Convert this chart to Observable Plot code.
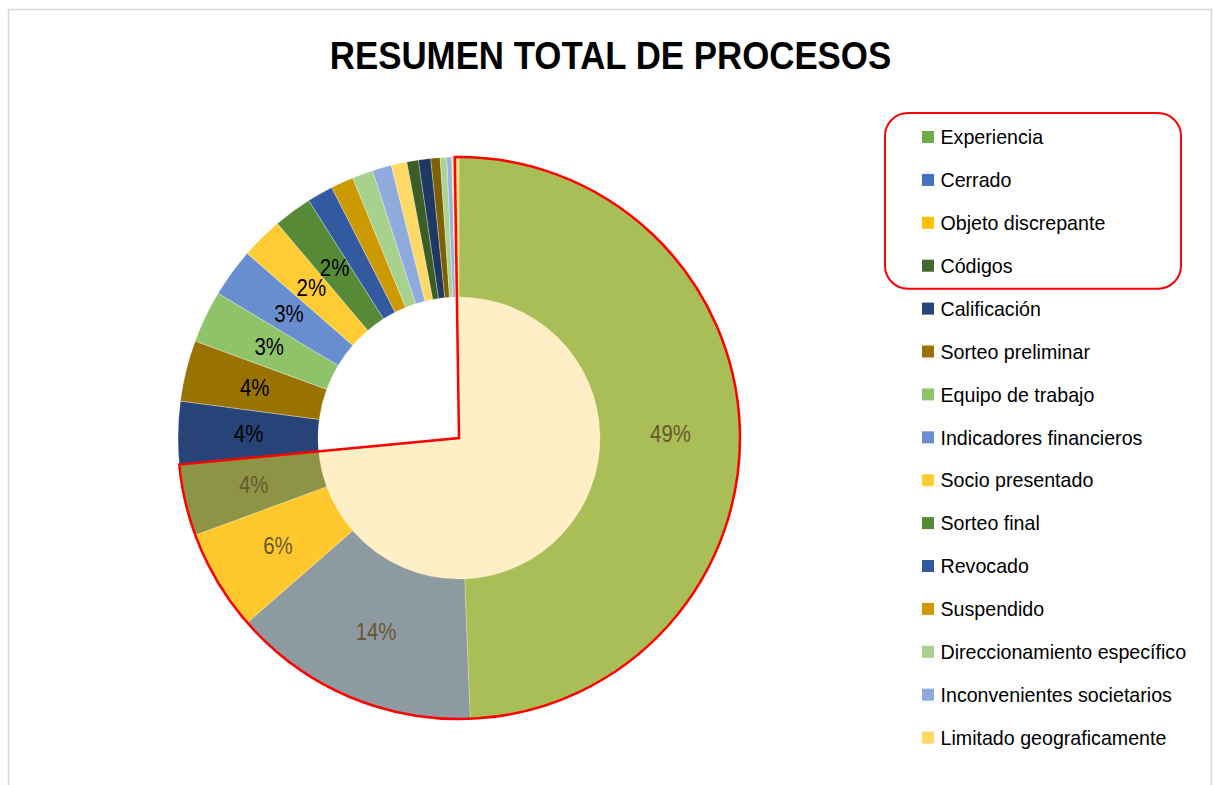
<!DOCTYPE html>
<html>
<head>
<meta charset="utf-8">
<script src="https://cdn.jsdelivr.net/npm/d3@7"></script>
<script src="https://cdn.jsdelivr.net/npm/@observablehq/plot@0.6"></script>
<style>
  html, body { margin: 0; padding: 0; background: #ffffff; }
  #chart svg { display: block; }
</style>
</head>
<body>
<div id="chart"></div>
<script>
// ---------------- data ----------------
const title = "RESUMEN TOTAL DE PROCESOS";

const categories = [
  "Experiencia", "Cerrado", "Objeto discrepante", "Códigos", "Calificación",
  "Sorteo preliminar", "Equipo de trabajo", "Indicadores financieros",
  "Socio presentado", "Sorteo final", "Revocado", "Suspendido",
  "Direccionamiento específico", "Inconvenientes societarios",
  "Limitado geograficamente",
  // series beyond the (truncated) legend
  "Otro 16", "Otro 17", "Otro 18", "Otro 19", "Otro 20", "Otro 21"
];

// share of total (%)
const values = [
  49.3, 14.2, 5.8, 4.1, 3.6,
  3.5, 3.0, 2.8,
  2.4, 2.2, 1.5, 1.3,
  1.2, 1.1,
  0.9,
  0.66, 0.71, 0.53, 0.38, 0.28, 0.41
];

const colors = [
  "#70AD47", "#4472C4", "#FFC000", "#43682B", "#264478",
  "#9A7200", "#8FC36A", "#698ED0", "#FFCD33", "#568A37",
  "#3359A1", "#CC9A00", "#A9D18E", "#8FAADC", "#FFD966",
  "#3A5E26", "#203864", "#7F6000", "#ADD394", "#98B3E2", "#FFE699"
];

const legendCount = 15;       // series listed in the legend
const labelCount = 10;        // slices that carry a data label
const highlightCount = 4;     // series inside the red highlight

// ---------------- layout ----------------
const W = 1214, H = 785;
const cx = 459, cy = 438, rOuter = 281, rInner = 141;
const legendX = 922, legendY0 = 137, legendStep = 42.9, sw = 12;
const font = "'Liberation Sans', Arial, sans-serif";

const data = categories.map((name, i) => ({name, value: values[i], color: colors[i], i}));
const total = d3.sum(values);
const arcs = d3.pie().sort(null).value(d => d.value)(data);
const midR = (rInner + rOuter) / 2;

const labelData = arcs.slice(0, labelCount).map(a => {
  const ang = (a.startAngle + a.endAngle) / 2;
  return {
    x: cx + midR * Math.sin(ang),
    y: cy - midR * Math.cos(ang),
    text: Math.round(a.data.value / total * 100) + "%"
  };
});

const legendData = data.slice(0, legendCount).map((d, i) => ({
  ...d, y: legendY0 + i * legendStep
}));

const highlightStart = arcs[0].startAngle - 0.015;
const highlightEnd = arcs[highlightCount - 1].endAngle;

function donutMark() {
  const g = d3.create("svg:g").attr("transform", `translate(${cx},${cy})`);
  const arc = d3.arc().innerRadius(rInner).outerRadius(rOuter);
  g.selectAll("path").data(arcs).join("path")
    .attr("d", arc)
    .attr("fill", d => d.data.color)
    .attr("stroke", "#ffffff")
    .attr("stroke-opacity", 0.5)
    .attr("stroke-width", 0.6);
  return g.node();
}

function highlightMark() {
  const g = d3.create("svg:g").attr("transform", `translate(${cx},${cy})`);
  const wedge = d3.arc().innerRadius(0).outerRadius(rOuter)
    .startAngle(highlightStart).endAngle(highlightEnd);
  g.append("path")
    .attr("d", wedge())
    .attr("fill", "#FFD771")
    .attr("fill-opacity", 0.4)
    .attr("stroke", "#FF0000")
    .attr("stroke-width", 2.5)
    .attr("stroke-linejoin", "miter");
  return g.node();
}

const hl = legendData.slice(0, highlightCount);

const chart = Plot.plot({
  width: W,
  height: H,
  margin: 0,
  x: {type: "identity", axis: null},
  y: {type: "identity", axis: null},
  style: {fontFamily: font, background: "#ffffff", overflow: "visible"},
  marks: [
    Plot.frame({stroke: "#D9D9D9", strokeWidth: 1.5, insetLeft: 8, insetTop: 9, insetRight: 3, insetBottom: -20}),
    Plot.text([title], {x: () => 610, y: () => 56, text: d => d, fontSize: 38.5, fontWeight: "bold", fill: "#000000"}),
    donutMark,
    Plot.text(labelData, {x: "x", y: "y", text: "text", fontSize: 24, fill: "#000000"}),
    highlightMark,
    Plot.rect(legendData, {
      x1: () => legendX, x2: () => legendX + sw,
      y1: d => d.y - sw / 2, y2: d => d.y + sw / 2,
      fill: "color"
    }),
    Plot.text(legendData, {x: () => legendX + 18, y: "y", text: "name", textAnchor: "start", fontSize: 21, fill: "#000000"}),
    Plot.rect([hl], {
      x1: () => 885, x2: () => 1181,
      y1: d => d[0].y - 24, y2: d => d[d.length - 1].y + 23,
      rx: 23, fill: "none", stroke: "#FF0000", strokeWidth: 2
    })
  ]
});

document.getElementById("chart").appendChild(chart);

// condense text horizontally like the reference rendering
const condense = {};
condense[title] = 0.905;
legendData.forEach(d => condense[d.name] = 0.935);
labelData.forEach(d => condense[d.text] = 0.85);
d3.select(chart).selectAll("text").each(function () {
  const k = condense[this.textContent];
  if (k) {
    const len = this.getComputedTextLength();
    this.setAttribute("textLength", (len * k).toFixed(1));
    this.setAttribute("lengthAdjust", "spacingAndGlyphs");
  }
});
</script>
</body>
</html>
